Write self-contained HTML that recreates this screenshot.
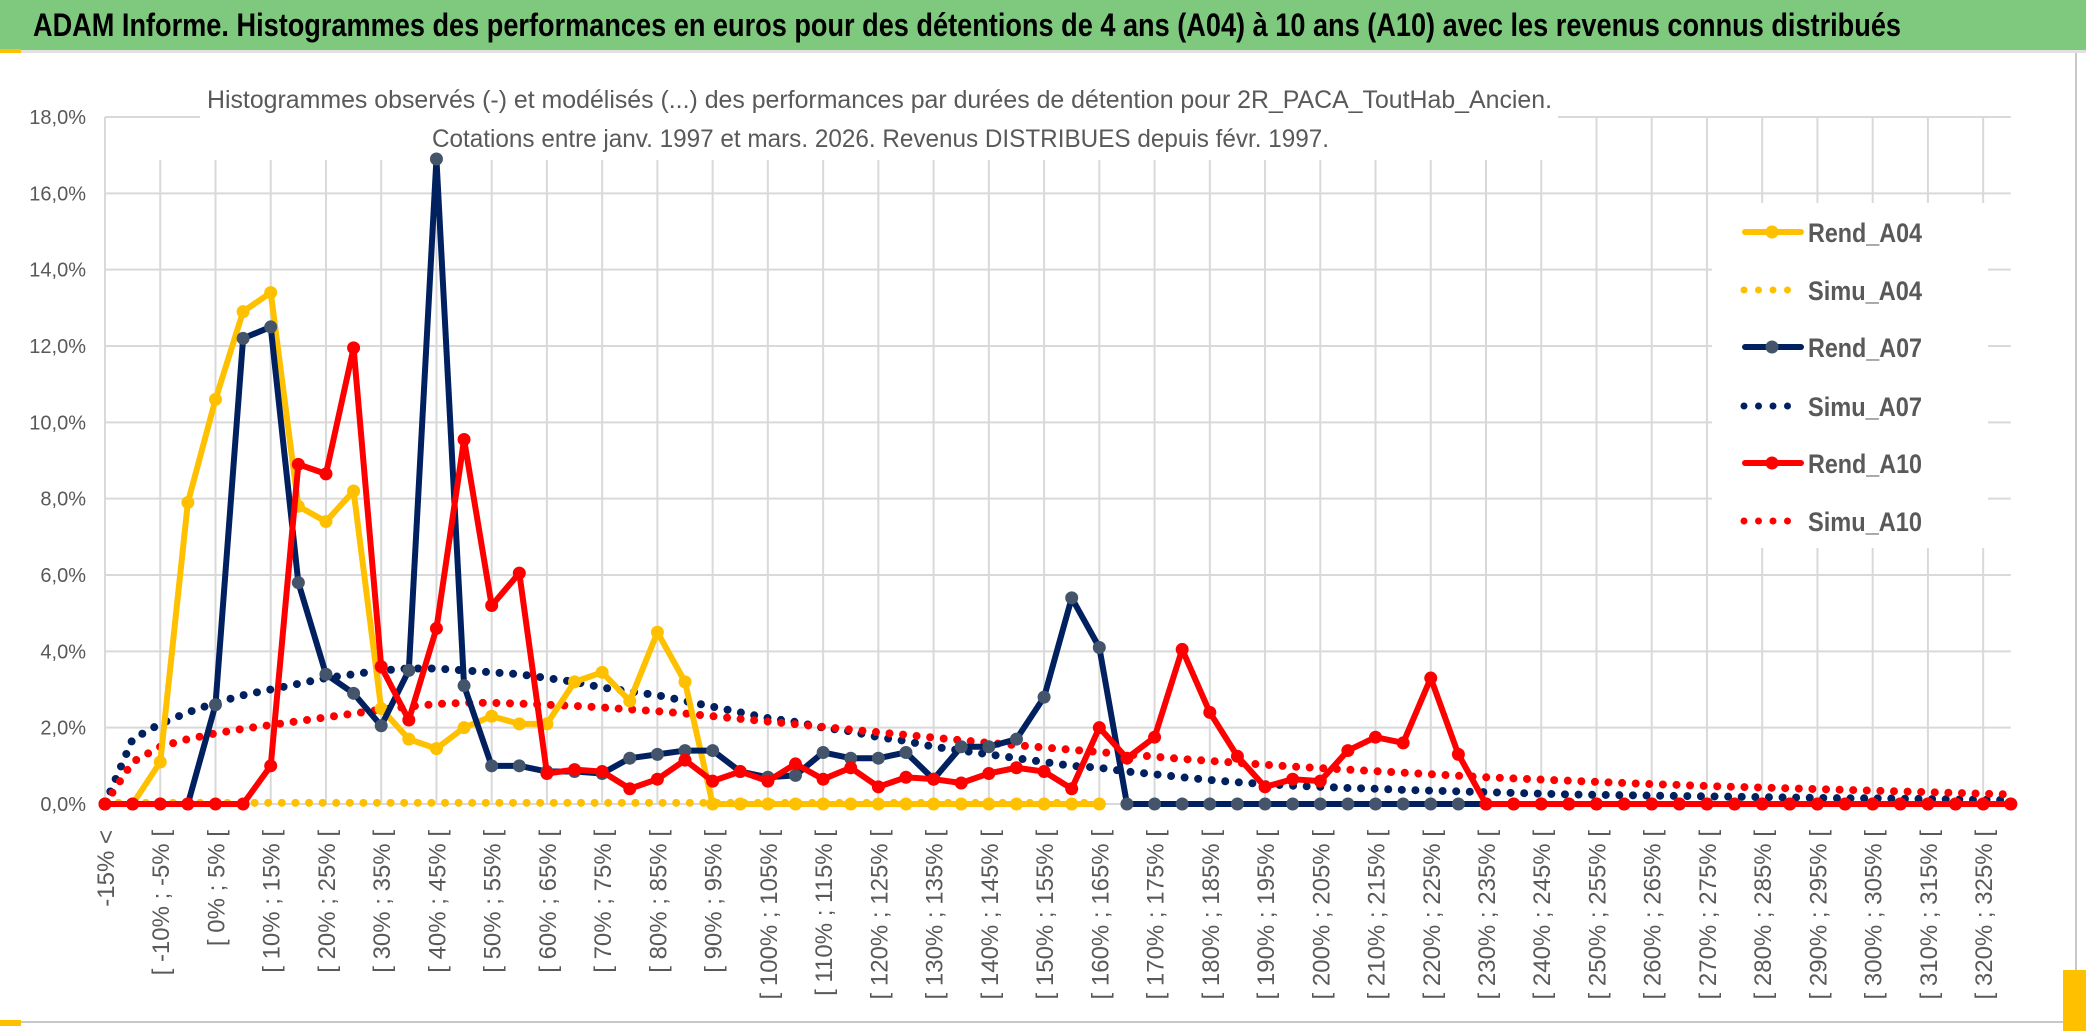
<!DOCTYPE html>
<html><head><meta charset="utf-8"><style>
html,body{margin:0;padding:0;background:#fff;}
svg{display:block;}
text{font-family:"Liberation Sans",sans-serif;}
</style></head><body>
<svg id="chart" width="2086" height="1031" viewBox="0 0 2086 1031" xmlns="http://www.w3.org/2000/svg">
<rect x="0" y="0" width="2086" height="1031" fill="#fff"/>
<rect x="0" y="0" width="2086" height="50" fill="#7fc97f"/>
<text x="33" y="36" font-size="32" font-weight="bold" fill="#000" textLength="1868" lengthAdjust="spacingAndGlyphs">ADAM Informe. Histogrammes des performances en euros pour des détentions de 4 ans (A04) à 10 ans (A10) avec les revenus connus distribués</text>
<rect x="0" y="50" width="2086" height="3" fill="#e0e0e0"/>
<rect x="0" y="49" width="21" height="4" fill="#ffc000"/>
<line x1="2076" y1="53" x2="2076" y2="1022" stroke="#c8c8c8" stroke-width="2"/>
<line x1="0" y1="1022" x2="2076" y2="1022" stroke="#c8c8c8" stroke-width="2"/>
<rect x="0" y="1020" width="21" height="6" fill="#ffc000"/>
<rect x="2063" y="970" width="23" height="61" fill="#ffc000"/>
<g id="grid"></g>
<rect x="200" y="60" width="1358" height="100" fill="#fff"/>
<text x="207" y="108" font-size="25" fill="#595959" textLength="1345" lengthAdjust="spacingAndGlyphs">Histogrammes observés (-) et modélisés (...) des performances par durées de détention pour 2R_PACA_ToutHab_Ancien.</text>
<text x="432" y="147" font-size="25" fill="#595959" textLength="897" lengthAdjust="spacingAndGlyphs">Cotations entre janv. 1997 et mars. 2026. Revenus DISTRIBUES depuis févr. 1997.</text>
<g id="yaxis"></g>
<g id="xaxis"></g>
<g id="series"></g>
<g id="legend"></g>
</svg>
<script>
const categories = ["-15% <","[ -15% ; -10% [","[ -10% ; -5% [","[ -5% ; 0% [","[ 0% ; 5% [","[ 5% ; 10% [","[ 10% ; 15% [","[ 15% ; 20% [","[ 20% ; 25% [","[ 25% ; 30% [","[ 30% ; 35% [","[ 35% ; 40% [","[ 40% ; 45% [","[ 45% ; 50% [","[ 50% ; 55% [","[ 55% ; 60% [","[ 60% ; 65% [","[ 65% ; 70% [","[ 70% ; 75% [","[ 75% ; 80% [","[ 80% ; 85% [","[ 85% ; 90% [","[ 90% ; 95% [","[ 95% ; 100% [","[ 100% ; 105% [","[ 105% ; 110% [","[ 110% ; 115% [","[ 115% ; 120% [","[ 120% ; 125% [","[ 125% ; 130% [","[ 130% ; 135% [","[ 135% ; 140% [","[ 140% ; 145% [","[ 145% ; 150% [","[ 150% ; 155% [","[ 155% ; 160% [","[ 160% ; 165% [","[ 165% ; 170% [","[ 170% ; 175% [","[ 175% ; 180% [","[ 180% ; 185% [","[ 185% ; 190% [","[ 190% ; 195% [","[ 195% ; 200% [","[ 200% ; 205% [","[ 205% ; 210% [","[ 210% ; 215% [","[ 215% ; 220% [","[ 220% ; 225% [","[ 225% ; 230% [","[ 230% ; 235% [","[ 235% ; 240% [","[ 240% ; 245% [","[ 245% ; 250% [","[ 250% ; 255% [","[ 255% ; 260% [","[ 260% ; 265% [","[ 265% ; 270% [","[ 270% ; 275% [","[ 275% ; 280% [","[ 280% ; 285% [","[ 285% ; 290% [","[ 290% ; 295% [","[ 295% ; 300% [","[ 300% ; 305% [","[ 305% ; 310% [","[ 310% ; 315% [","[ 315% ; 320% [","[ 320% ; 325% [","325% >="];
const yTicks = [0,2,4,6,8,10,12,14,16,18];
const yTickLabels = ["0,0%","2,0%","4,0%","6,0%","8,0%","10,0%","12,0%","14,0%","16,0%","18,0%"];
const rendA04 = [0,0,1.1,7.9,10.6,12.9,13.4,7.8,7.4,8.2,2.5,1.7,1.45,2.0,2.3,2.1,2.1,3.2,3.45,2.7,4.5,3.2,0,0,0,0,0,0,0,0,0,0,0,0,0,0,0];
const simuA04 = [0.03,0.03,0.03,0.03,0.03,0.03,0.03,0.03,0.03,0.03,0.03,0.03,0.03,0.03,0.03,0.03,0.03,0.03,0.03,0.03,0.03,0.03,0.03,0.03,0.03,0.03,0.03,0.03,0.03,0.03,0.03,0.03,0.03,0.03,0.03,0.03,0.03];
const rendA07 = [0,0,0,0,2.6,12.2,12.5,5.8,3.4,2.9,2.05,3.5,16.9,3.1,1.0,1.0,0.85,0.85,0.8,1.2,1.3,1.4,1.4,0.85,0.7,0.75,1.35,1.2,1.2,1.35,0.65,1.5,1.5,1.7,2.8,5.4,4.1,0,0,0,0,0,0,0,0,0,0,0,0,0,0,0,0,0,0,0,0,0,0,0,0,0,0,0,0,0,0,0,0,0];
const simuA07 = [0,1.7,2.1,2.4,2.65,2.85,3.0,3.15,3.3,3.4,3.5,3.55,3.55,3.5,3.45,3.4,3.3,3.2,3.05,2.95,2.85,2.7,2.55,2.4,2.25,2.15,2.0,1.9,1.75,1.65,1.5,1.4,1.3,1.2,1.1,1.0,0.95,0.85,0.78,0.7,0.63,0.57,0.52,0.48,0.45,0.42,0.4,0.37,0.35,0.33,0.31,0.29,0.27,0.25,0.24,0.23,0.22,0.21,0.2,0.19,0.18,0.17,0.16,0.15,0.15,0.14,0.13,0.12,0.11,0.1];
const rendA10 = [0,0,0,0,0,0,1.0,8.9,8.65,11.95,3.6,2.2,4.6,9.55,5.2,6.05,0.8,0.9,0.85,0.4,0.65,1.15,0.6,0.85,0.6,1.05,0.65,0.95,0.45,0.7,0.65,0.55,0.8,0.95,0.85,0.4,2.0,1.2,1.75,4.05,2.4,1.25,0.45,0.65,0.6,1.4,1.75,1.6,3.3,1.3,0,0,0,0,0,0,0,0,0,0,0,0,0,0,0,0,0,0,0,0];
const simuA10 = [0,1.1,1.5,1.7,1.85,1.97,2.07,2.17,2.27,2.37,2.47,2.55,2.62,2.65,2.65,2.63,2.6,2.57,2.53,2.48,2.43,2.37,2.3,2.23,2.16,2.09,2.02,1.95,1.88,1.81,1.74,1.67,1.6,1.54,1.48,1.42,1.36,1.3,1.24,1.18,1.13,1.08,1.03,0.98,0.94,0.9,0.86,0.82,0.78,0.74,0.7,0.67,0.64,0.61,0.58,0.55,0.52,0.5,0.47,0.45,0.43,0.41,0.39,0.37,0.35,0.33,0.31,0.29,0.27,0.25];
const legendLabels = ["Rend_A04","Simu_A04","Rend_A07","Simu_A07","Rend_A10","Simu_A10"];

const NS="http://www.w3.org/2000/svg";
const X0=105, STEP=27.62, Y0=804, YTOP=117, YMAX=18;
function xs(i){return X0+i*STEP;}
function ys(v){return Y0-(v/YMAX)*(Y0-YTOP);}
function mk(tag,attrs,parent){const e=document.createElementNS(NS,tag);for(const k in attrs)e.setAttribute(k,attrs[k]);parent.appendChild(e);return e;}
const XMAX=xs(categories.length-1);

const grid=document.getElementById('grid');
yTicks.forEach((t,k)=>{
  if(t===0)return;
  const l=mk('line',{x1:X0,x2:XMAX,y1:ys(t),y2:ys(t),stroke:'#d9d9d9','stroke-width':2},grid);
  
  
});
for(let i=2;i<categories.length;i+=2){
  const x=xs(i);
  const l=mk('line',{x1:x,x2:x,y1:(x<1558?160:ys(18)),y2:Y0,stroke:'#d9d9d9','stroke-width':2},grid);
  
  
}
const ax=mk('line',{x1:X0,x2:X0,y1:ys(18),y2:Y0,stroke:'#d9d9d9','stroke-width':2},grid);


const bx=mk('line',{x1:X0,x2:XMAX,y1:Y0,y2:Y0,stroke:'#d9d9d9','stroke-width':2},grid);



const ya=document.getElementById('yaxis');
yTicks.forEach((t,k)=>{
  const tx=mk('text',{x:86,y:ys(t)+7,'font-size':20,fill:'#595959','text-anchor':'end'},ya);
  tx.textContent=yTickLabels[k];
  
  
});
const xa=document.getElementById('xaxis');
for(let i=0;i<categories.length;i+=2){
  const x=xs(i)+9, y=830;
  const tx=mk('text',{x:x,y:y,'font-size':24,fill:'#595959','text-anchor':'end',transform:`rotate(-90 ${x} ${y})`},xa);
  tx.textContent=categories[i];
  
  
}

const ser=document.getElementById('series');
function dotted(vals,color,name){
  const p=mk('polyline',{points:vals.map((v,i)=>xs(i)+','+ys(v)).join(' '),fill:'none',stroke:color,'stroke-width':8,'stroke-linecap':'round','stroke-dasharray':'0 13.6'},ser);
  
  
}
function solid(vals,color,mcolor,name){
  const g=mk('g',{},ser);
  
  
  const p=mk('polyline',{points:vals.map((v,i)=>xs(i)+','+ys(v)).join(' '),fill:'none',stroke:color,'stroke-width':6,'stroke-linejoin':'round'},g);
  
  
  vals.forEach((v,i)=>{
    const c=mk('circle',{cx:xs(i),cy:ys(v),r:6.5,fill:mcolor},g);
    
    
  });
}
dotted(simuA04,'#ffc000','simu-a04');
dotted(simuA07,'#002060','simu-a07');
dotted(simuA10,'#ff0000','simu-a10');
solid(rendA04,'#ffc000','#ffc000','rend-a04');
solid(rendA07,'#002060','#44546a','rend-a07');
solid(rendA10,'#ff0000','#ff0000','rend-a10');

const lg=document.getElementById('legend');
const lbox=mk('rect',{x:1712,y:203,width:276,height:345,fill:'#fff'},lg);


const lcol=['#ffc000','#ffc000','#002060','#002060','#ff0000','#ff0000'];
const lmk=['#ffc000',null,'#44546a',null,'#ff0000',null];
const lys=[232,290,347,406,463,521];
legendLabels.forEach((lab,k)=>{
  const g=mk('g',{},lg);
  
  
  const y=lys[k];
  if(lmk[k]){
    mk('line',{x1:1745,x2:1801,y1:y,y2:y,stroke:lcol[k],'stroke-width':6,'stroke-linecap':'round'},g);
    mk('circle',{cx:1772,cy:y,r:6.5,fill:lmk[k]},g);
  } else {
    mk('line',{x1:1744,x2:1800,y1:y,y2:y,stroke:lcol[k],'stroke-width':7,'stroke-linecap':'round','stroke-dasharray':'0 14.5'},g);
  }
  const t=mk('text',{x:1808,y:y+10,'font-size':27,fill:'#595959','font-weight':'bold',textLength:114,lengthAdjust:'spacingAndGlyphs'},g);
  t.textContent=lab;
});
</script>
</body></html>
